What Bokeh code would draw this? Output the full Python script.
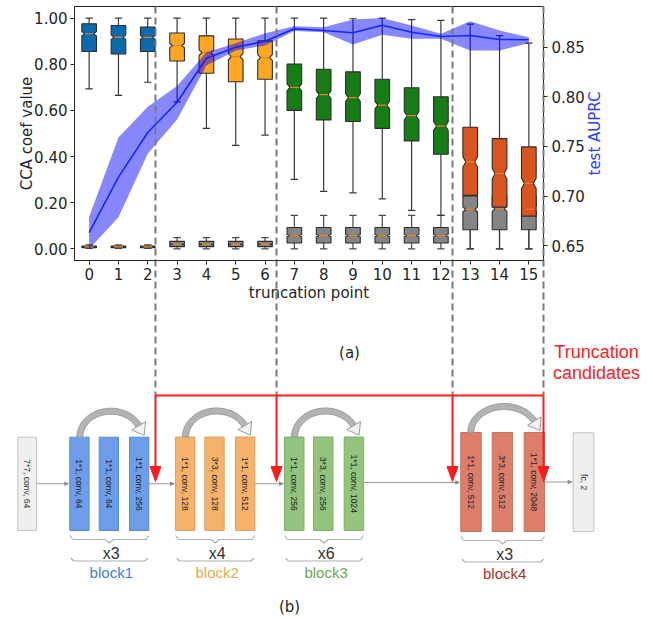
import numpy as np
from bokeh.plotting import figure
from bokeh.models import Range1d, LinearAxis, FixedTicker, PrintfTickFormatter
from bokeh.core.properties import value
from bokeh.embed import file_html
from bokeh.resources import INLINE

# ---------------- data ----------------
truncation_points = list(range(16))
stage = ["block1"] * 3 + ["block2"] * 4 + ["block3"] * 6 + ["block4"] * 3

# CCA coefficient distribution per truncation point (whisker low, Q1, median, Q3, whisker high)
cca_low = [0.693, 0.665, 0.722, 0.637, 0.522, 0.449, 0.493, 0.301,
           0.249, 0.243, 0.217, 0.167, 0.145, 0.000, 0.000, 0.000]
cca_q1 = [0.855, 0.845, 0.855, 0.814, 0.761, 0.724, 0.735, 0.600,
          0.559, 0.552, 0.522, 0.468, 0.410, 0.232, 0.181, 0.142]
cca_med = [0.932, 0.917, 0.916, 0.881, 0.850, 0.833, 0.829, 0.700,
           0.668, 0.655, 0.623, 0.577, 0.532, 0.377, 0.326, 0.284]
cca_q3 = [0.975, 0.968, 0.961, 0.935, 0.923, 0.909, 0.901, 0.801,
          0.778, 0.767, 0.735, 0.698, 0.659, 0.527, 0.478, 0.442]
cca_high = [1.000, 1.000, 1.000, 1.000, 1.000, 1.000, 1.000, 1.000,
            1.000, 0.997, 1.000, 0.993, 0.990, 0.974, 0.924, 0.891]

# baseline CCA coefficients (grey boxes)
base_low = [0.002, 0.002, 0.002, 0.000, 0.000, 0.000, 0.000, 0.000,
            0.000, 0.000, 0.000, 0.000, 0.000, 0.000, 0.000, 0.000]
base_q1 = [0.005, 0.005, 0.005, 0.010, 0.010, 0.010, 0.010, 0.026,
           0.026, 0.026, 0.026, 0.026, 0.026, 0.083, 0.083, 0.083]
base_med = [0.009, 0.009, 0.009, 0.020, 0.020, 0.020, 0.020, 0.058,
            0.058, 0.058, 0.058, 0.058, 0.058, 0.171, 0.174, 0.172]
base_q3 = [0.013, 0.013, 0.013, 0.033, 0.033, 0.033, 0.033, 0.093,
           0.093, 0.093, 0.093, 0.093, 0.093, 0.230, 0.230, 0.230]
base_high = [0.018, 0.018, 0.018, 0.049, 0.049, 0.049, 0.049, 0.145,
             0.145, 0.145, 0.145, 0.145, 0.145, 0.230, 0.230, 0.230]

# test AUPRC (mean and band)
auprc_mean = [0.663, 0.719, 0.764, 0.7945, 0.8388, 0.850, 0.856, 0.8685,
              0.8668, 0.8645, 0.8722, 0.8651, 0.8608, 0.8618, 0.8578, 0.8575]
auprc_upper = [0.679, 0.759, 0.790, 0.811, 0.8450, 0.854, 0.864, 0.871,
               0.870, 0.8779, 0.8795, 0.8719, 0.8635, 0.8762, 0.8668, 0.8601]
auprc_lower = [0.6467, 0.6786, 0.7425, 0.777, 0.8316, 0.8467, 0.8517, 0.8663,
               0.8651, 0.8527, 0.8625, 0.8585, 0.8585, 0.8467, 0.8467, 0.8540]

cca_ticks = [0.0, 0.2, 0.4, 0.6, 0.8, 1.0]
auprc_ticks = [0.65, 0.70, 0.75, 0.80, 0.85]

# network diagram text
stem_label = "7*7, conv, 64"
block_names = ["block1", "block2", "block3", "block4"]
block_repeats = ["x3", "x4", "x6", "x3"]
block_layers = [
    ["1*1, conv, 64", "1*1, conv, 64", "1*1, conv, 256"],
    ["1*1, conv, 128", "3*3, conv, 128", "1*1, conv, 512"],
    ["1*1, conv, 256", "3*3, conv, 256", "1*1, conv, 1024"],
    ["1*1, conv, 512", "3*3, conv, 512", "1*1, conv, 2048"],
]
head_label = "fc, 2"

# ---------------- canvas ----------------
W, H = 653, 619
INK = "#262626"
FL, FR, FT, FB = 74.0, 543.0, 6.0, 260.0      # chart panel in canvas pixels
X_LO, X_HI = -0.5, 15.5
C_LO, C_HI = -0.05, 1.05
A_LO, A_HI = 0.635, 0.891

sx = (FR - FL) / (X_HI - X_LO)
sc = (FB - FT) / (C_HI - C_LO)
sa = (FB - FT) / (A_HI - A_LO)

p = figure(width=W, height=H, x_range=Range1d(0, W), y_range=Range1d(H, 0),
           output_backend="svg", toolbar_location=None, min_border=0,
           x_axis_type=None, y_axis_type=None, outline_line_color=None,
           background_fill_color="white", border_fill_color="white")
p.grid.visible = False
p.extra_x_ranges = {"trunc": Range1d(X_LO - FL / sx, X_HI + (W - FR) / sx)}
p.extra_y_ranges = {
    "cca": Range1d(C_LO - (H - FB) / sc, C_HI + FT / sc),
    "auprc": Range1d(A_LO - (H - FB) / sa, A_HI + FT / sa),
}
CH = dict(x_range_name="trunc", y_range_name="cca")
AU = dict(x_range_name="trunc", y_range_name="auprc")

STAGE_FILL = {"block1": "#0b6aae", "block2": "#ffa623",
              "block3": "#167d16", "block4": "#d9541e"}
GREY_FILL = "#858585"
EDGE = "#2d2d2d"
MED = "#e8821e"
BOX_W = 0.5
NOTCH_W = 0.3


def notched(x, q1, med, q3):
    n = 0.075 * (q3 - q1)
    l, r = x - BOX_W / 2, x + BOX_W / 2
    nl, nr = x - NOTCH_W / 2, x + NOTCH_W / 2
    xs = [l, r, r, nr, r, r, l, l, nl, l]
    ys = [q1, q1, med - n, med, med + n, q3, q3, med + n, med, med - n]
    return xs, ys


xs_pos = np.array(truncation_points, dtype=float)

# whiskers first (hidden parts stay under the boxes)
for lo, q1, q3, hi, col in [(base_low, base_q1, base_q3, base_high, "#4a4a4a"),
                           (cca_low, cca_q1, cca_q3, cca_high, "#3a3a3a")]:
    p.segment(x0=xs_pos, y0=q3, x1=xs_pos, y1=hi, line_color=col, line_width=1.2, **CH)
    p.segment(x0=xs_pos, y0=q1, x1=xs_pos, y1=lo, line_color=col, line_width=1.2, **CH)
    p.segment(x0=xs_pos - 0.125, y0=hi, x1=xs_pos + 0.125, y1=hi, line_color=col, line_width=1.2, **CH)
    p.segment(x0=xs_pos - 0.125, y0=lo, x1=xs_pos + 0.125, y1=lo, line_color=col, line_width=1.2, **CH)

# grey baseline boxes
bx, by = zip(*[notched(x, a, b, c) for x, a, b, c in zip(xs_pos, base_q1, base_med, base_q3)])
p.patches(xs=list(bx), ys=list(by), fill_color=GREY_FILL, line_color=EDGE, line_width=1.1, **CH)

# coloured boxes
cx_, cy_ = zip(*[notched(x, a, b, c) for x, a, b, c in zip(xs_pos, cca_q1, cca_med, cca_q3)])
p.patches(xs=list(cx_), ys=list(cy_), fill_color=[STAGE_FILL[s] for s in stage],
          line_color=EDGE, line_width=1.1, **CH)

# medians on top
for med in (base_med, cca_med):
    p.segment(x0=xs_pos - NOTCH_W / 2, y0=med, x1=xs_pos + NOTCH_W / 2, y1=med,
              line_color=MED, line_width=1.2, **CH)

# AUPRC band and mean line
p.varea(x=xs_pos, y1=auprc_lower, y2=auprc_upper, fill_color="#0000ff", fill_alpha=0.47, **AU)
p.line(x=xs_pos, y=auprc_mean, line_color="#1226ff", line_width=1.6, **AU)

# chart frame
p.quad(left=[X_LO], right=[X_HI], bottom=[C_LO], top=[C_HI], fill_color=None,
       line_color=INK, line_width=1, **CH)


def style_axis(ax):
    ax.major_label_text_font = "DejaVu Sans"
    ax.major_label_text_font_size = "15px"
    ax.major_label_text_color = INK
    ax.axis_line_color = INK
    ax.major_tick_line_color = INK
    ax.major_tick_in = 0
    ax.major_tick_out = 4
    ax.minor_tick_line_color = None
    ax.axis_label_text_font = "DejaVu Sans"
    ax.axis_label_text_font_size = "15px"
    ax.axis_label_text_font_style = "normal"
    ax.axis_label_text_color = INK


ax_left = LinearAxis(x_range_name="trunc", y_range_name="cca", fixed_location=X_LO,
                     bounds=(C_LO, C_HI), ticker=FixedTicker(ticks=cca_ticks),
                     formatter=PrintfTickFormatter(format="%.2f"))
style_axis(ax_left)
ax_left.major_label_standoff = 3
p.add_layout(ax_left, "left")

ax_bottom = LinearAxis(x_range_name="trunc", y_range_name="cca", fixed_location=C_LO,
                       bounds=(X_LO, X_HI), ticker=FixedTicker(ticks=truncation_points),
                       axis_label="truncation point")
style_axis(ax_bottom)
ax_bottom.major_label_standoff = 3
ax_bottom.axis_label_standoff = 1
p.add_layout(ax_bottom, "below")

ax_right = LinearAxis(x_range_name="trunc", y_range_name="auprc", fixed_location=X_HI,
                      bounds=(A_LO, A_HI), ticker=FixedTicker(ticks=auprc_ticks),
                      formatter=PrintfTickFormatter(format="%.2f"))
style_axis(ax_right)
ax_right.axis_line_color = None
ax_right.major_label_standoff = 4
p.add_layout(ax_right, "right")

# vertical axis titles
p.text(x=[26, 594], y=[(FT + FB) / 2] * 2, text=["CCA coef value", "test AUPRC"],
       angle=np.pi / 2, text_font=value("DejaVu Sans"), text_font_size="15px",
       text_color=[INK, "#2a3cff"], text_align="center", text_baseline="middle")

# ---------------- network diagram (canvas pixels) ----------------
SANS = value("Liberation Sans")
block_fill = ["#6d9eeb", "#f6b26b", "#93c47d", "#dd7e6b"]
block_edge = ["#5b8bd8", "#dfa060", "#80b06c", "#c66f5e"]
block_text = ["#3d7fe0", "#e2aa55", "#6aa84f", "#a8322d"]
block_lefts = [[69.3, 98.7, 129.0], [175.0, 204.3, 235.0],
               [284.0, 313.0, 343.7], [460.3, 491.7, 523.7]]
block_w = [19.3, 19.4, 19.5, 20.4]
block_tb = [(436.7, 530.0), (436.5, 530.0), (436.5, 530.0), (432.0, 531.0)]

# light grey stem and head boxes
p.quad(left=[17.3, 572.7], right=[36.0, 593.3], top=[436.7, 432.3], bottom=[530.0, 531.0],
       fill_color="#efefef", line_color="#c4c4c4", line_width=1)
p.text(x=[26.6, 583.0], y=[483.3, 481.6], text=[stem_label, head_label], angle=-np.pi / 2,
       text_font=SANS, text_font_size="8.5px", text_color="#333333",
       text_align="center", text_baseline="middle")

# thin connectors between stages
conn = [(36.0, 68.8, 483.3), (148.3, 174.5, 483.3), (254.3, 283.5, 483.3),
        (363.3, 459.8, 482.0), (544.0, 572.2, 481.5)]
p.segment(x0=[c[0] for c in conn], y0=[c[2] for c in conn],
          x1=[c[1] - 4 for c in conn], y1=[c[2] for c in conn],
          line_color="#9a9a9a", line_width=1)
p.patches(xs=[[c[1], c[1] - 5, c[1] - 5] for c in conn],
          ys=[[c[2], c[2] - 2.2, c[2] + 2.2] for c in conn],
          fill_color="#8a8a8a", line_color=None)


def skip_arrow(left, right, top):
    a = (right - left) / 2 - 8.5
    cxa = left + 10 + a
    b = 26.0
    th = 6.0
    t_end = np.radians(26)
    t = np.linspace(np.pi, t_end, 40)
    ox = cxa + (a + th / 2) * np.cos(t)
    oy = top - (b + th / 2) * np.sin(t)
    ix = cxa + (a - th / 2) * np.cos(t)
    iy = top - (b - th / 2) * np.sin(t)
    body = (list(ox) + list(ix[::-1]), list(oy) + list(iy[::-1]))
    ex, ey = cxa + a * np.cos(t_end), top - b * np.sin(t_end)
    d = np.array([a * np.sin(t_end), b * np.cos(t_end)])
    d = d / np.hypot(*d)
    nrm = np.array([-d[1], d[0]])
    head = ([ex + 8 * nrm[0], ex - 8 * nrm[0], ex + 11 * d[0]],
            [ey + 8 * nrm[1], ey - 8 * nrm[1], ey + 11 * d[1]])
    return body, head


for k in range(4):
    lefts = block_lefts[k]
    w = block_w[k]
    top, bot = block_tb[k]
    rights = [l + w for l in lefts]
    p.quad(left=lefts, right=rights, top=[top] * 3, bottom=[bot] * 3,
           fill_color=block_fill[k], line_color=block_edge[k], line_width=1)
    p.text(x=[l + w / 2 for l in lefts], y=[(top + bot) / 2] * 3, text=block_layers[k],
           angle=-np.pi / 2, text_font=SANS, text_font_size="8.5px", text_color="#222222",
           text_align="center", text_baseline="middle")
    L, R = lefts[0], rights[-1]
    mid = (L + R) / 2
    body, head = skip_arrow(L, R, top)
    p.patch(x=body[0], y=body[1], fill_color="#b3b3b3", line_color="#9c9c9c", line_width=1)
    p.patch(x=head[0], y=head[1], fill_color="#f2f2f2", line_color="#9c9c9c", line_width=1)
    bt = bot + 5
    p.line(x=[L, L + 3, mid - 4, mid, mid + 4, R - 3, R],
           y=[bt, bt + 4, bt + 4, bt + 7.5, bt + 4, bt + 4, bt],
           line_color="#b0b0b0", line_width=1.2)
    ul = bot + 30.5
    p.line(x=[L + 1, L + 4, R - 4, R - 1], y=[ul - 3, ul, ul, ul - 3],
           line_color="#b0b0b0", line_width=1.2)
    p.text(x=[mid + 2], y=[bot + 22.5], text=[block_repeats[k]], text_font=SANS,
           text_font_size="16px", text_color="#333333", text_align="center",
           text_baseline="middle")
    p.text(x=[mid + 2], y=[bot + 42], text=[block_names[k]], text_font=SANS,
           text_font_size="15px", text_color=block_text[k], text_align="center",
           text_baseline="middle")

# truncation candidates: dashed guides and red arrows
cand_x = [155.0, 276.0, 452.0, 543.0]
p.segment(x0=cand_x, y0=[FT] * 4, x1=cand_x, y1=[395.0] * 4,
          line_color="#7a7a7a", line_width=2, line_dash="7 4")
p.segment(x0=[cand_x[0]], y0=[395.0], x1=[cand_x[-1]], y1=[395.0],
          line_color="#ff1c1c", line_width=2)
p.segment(x0=cand_x, y0=[395.0] * 4, x1=cand_x, y1=[467.0] * 4,
          line_color="#ff1c1c", line_width=2)
p.patches(xs=[[x - 5.5, x + 5.5, x] for x in cand_x],
          ys=[[466.0, 466.0, 481.0] for _ in cand_x],
          fill_color="#ff1c1c", line_color="#ff1c1c", line_width=1)
p.text(x=[596, 596], y=[351, 372], text=["Truncation", "candidates"], text_font=SANS,
       text_font_size="18px", text_color="#ff2020", text_align="center",
       text_baseline="middle")

p.text(x=[349, 289], y=[352, 606], text=["(a)", "(b)"], text_font=value("DejaVu Sans"),
       text_font_size="15px", text_color=INK, text_align="center", text_baseline="middle")

open("out.html", "w").write(file_html(p, INLINE))
